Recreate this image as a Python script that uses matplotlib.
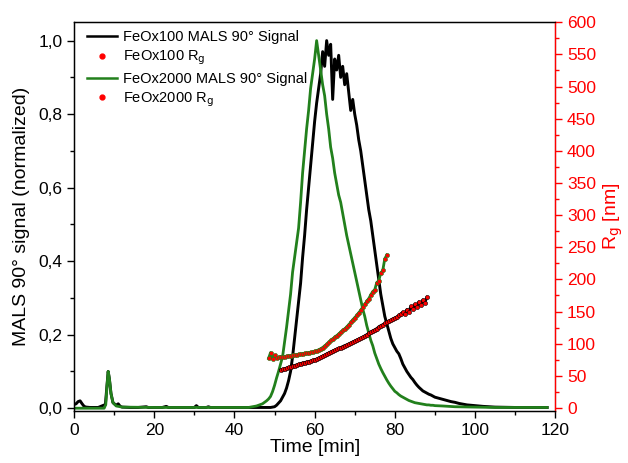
import matplotlib
matplotlib.use("Agg")
import matplotlib.pyplot as plt
from matplotlib.ticker import MultipleLocator, FuncFormatter
import numpy as np

plt.rcParams['font.family'] = ['Liberation Sans', 'DejaVu Sans']

# --- MALS 90 deg signal, FeOx100 (black) ---
t100_base = [0, 0.5, 1, 1.5, 2, 2.5, 3, 4, 6, 7.8, 8.2, 8.5, 8.8, 9.2, 9.7, 10.5, 11, 11.5, 12,
             14, 16, 18, 18.5, 19, 22, 23, 23.5, 24, 28, 30, 30.5, 31, 33, 33.5, 34, 38, 43.5]
s100_base = [0.01, 0.012, 0.018, 0.02, 0.012, 0.005, 0.003, 0.002, 0.002, 0.01, 0.06, 0.1, 0.08,
             0.04, 0.015, 0.008, 0.012, 0.005, 0.003, 0.002, 0.002, 0.004, 0.002, 0.002, 0.002,
             0.005, 0.002, 0.002, 0.002, 0.002, 0.007, 0.002, 0.002, 0.004, 0.002, 0.002, 0.002]
# 44.0 ... 90.0 min, every 0.5 min
s100_peak = [0.002, 0.002, 0.002, 0.002, 0.002, 0.002, 0.002, 0.002, 0.002, 0.002, 0.002, 0.003,
             0.004, 0.008, 0.014, 0.02, 0.03, 0.04, 0.055, 0.075, 0.1, 0.14, 0.19, 0.24,
             0.29, 0.34, 0.41, 0.47, 0.54, 0.6, 0.66, 0.72, 0.78, 0.83, 0.87, 0.91,
             0.97, 0.93, 1.0, 0.96, 0.99, 0.84, 0.95, 0.92, 0.96, 0.9, 0.93, 0.88,
             0.91, 0.86, 0.81, 0.84, 0.8, 0.77, 0.73, 0.7, 0.66, 0.62, 0.58, 0.54,
             0.51, 0.47, 0.43, 0.39, 0.35, 0.31, 0.28, 0.25, 0.23, 0.21, 0.19, 0.175,
             0.165, 0.155, 0.148, 0.135, 0.12, 0.11, 0.1, 0.092, 0.084, 0.078, 0.07, 0.063,
             0.057, 0.052, 0.047, 0.044, 0.041, 0.038, 0.036, 0.033, 0.03]
t100_tail = [91, 92, 93, 94, 95, 96, 97, 98, 100, 102, 105, 110, 115, 118]
s100_tail = [0.027, 0.024, 0.021, 0.018, 0.016, 0.013, 0.011, 0.009, 0.007, 0.005, 0.003,
             0.002, 0.002, 0.002]

# --- MALS 90 deg signal, FeOx2000 (green) ---
t2000_base = [0, 5, 7.5, 7.9, 8.2, 8.5, 8.8, 9.2, 9.7, 10.5, 12, 20, 30, 40, 43.5]
s2000_base = [0.0, 0.0, 0.0, 0.01, 0.06, 0.1, 0.08, 0.04, 0.015, 0.006, 0.003, 0.002, 0.002,
              0.002, 0.002]
s2000_peak = [0.003, 0.004, 0.005, 0.006, 0.008, 0.01, 0.012, 0.016, 0.02, 0.025, 0.032, 0.045,
              0.062, 0.082, 0.1, 0.12, 0.14, 0.18, 0.22, 0.265, 0.31, 0.37, 0.41, 0.45,
              0.49, 0.56, 0.64, 0.7, 0.76, 0.81, 0.87, 0.91, 0.95, 1.0, 0.96, 0.92,
              0.88, 0.85, 0.8, 0.76, 0.71, 0.68, 0.64, 0.61, 0.58, 0.56, 0.53, 0.5,
              0.47, 0.445, 0.42, 0.395, 0.37, 0.345, 0.32, 0.295, 0.27, 0.25, 0.225, 0.205,
              0.185, 0.17, 0.15, 0.135, 0.12, 0.108, 0.097, 0.087, 0.077, 0.068, 0.06, 0.053,
              0.046, 0.042, 0.037, 0.033, 0.03, 0.027, 0.024, 0.021, 0.019, 0.017, 0.015, 0.014,
              0.013, 0.012, 0.011, 0.01, 0.009, 0.009, 0.008, 0.008, 0.007]
t2000_tail = [92, 95, 100, 105, 110, 118]
s2000_tail = [0.006, 0.004, 0.003, 0.002, 0.002, 0.002]

# --- radius of gyration [nm], every 0.5 min ---
rg100_start = 51.5
rg100 = [59, 60, 61, 62, 63, 64, 65, 66, 67, 68, 69, 70, 70.5, 71.5, 72, 73, 74, 75, 76, 77.5,
         79, 80.5, 82, 84, 85.5, 87, 88.5, 90, 91, 92.5, 94, 95.5, 97, 98, 99.5, 101, 102.5,
         104, 105.5, 107, 108.5, 110, 112, 114, 116, 118, 120, 121.5, 123.5, 126, 128, 129.5,
         131.5, 133, 135, 136.5, 138.5, 140, 141.5, 144, 146, 149, 146, 153, 150, 158, 154,
         161, 157, 165, 160, 168, 164, 172]
rg2000_start = 48.5
rg2000 = [77, 86, 76, 82, 78, 79, 80, 79.5, 80, 80.5, 81, 81.5, 82, 82.5, 83, 83.5, 84, 84.5,
          85, 85.5, 86, 86.5, 87, 88, 89, 90.5, 92, 94, 96.5, 99, 102, 105, 107.5, 110, 112.5,
          115, 118, 120.5, 123, 126, 129.5, 133, 137, 140.5, 144, 148, 152, 157, 161, 166,
          170, 176, 181, 184, 195, 198, 210, 214, 232, 238]

green = '#22801c'

t100 = np.concatenate([t100_base, 44 + 0.5 * np.arange(len(s100_peak)), t100_tail])
s100 = np.concatenate([s100_base, s100_peak, s100_tail])
t2000 = np.concatenate([t2000_base, 44 + 0.5 * np.arange(len(s2000_peak)), t2000_tail])
s2000 = np.concatenate([s2000_base, s2000_peak, s2000_tail])
trg100 = rg100_start + 0.5 * np.arange(len(rg100))
trg2000 = rg2000_start + 0.5 * np.arange(len(rg2000))

fig = plt.figure(figsize=(6.28, 4.63), dpi=100)
ax = fig.add_axes([0.118, 0.112, 0.766, 0.84])
ax2 = ax.twinx()

ax.plot(t100, s100, color='black', lw=2.1)
ax.plot(t2000, s2000, color=green, lw=2.0)

ax2.plot(trg100, rg100, color='black', lw=2)
ax2.plot(trg2000, rg2000, color=green, lw=2)
ax2.plot(trg100, rg100, ls='none', marker='o', ms=3, mfc='red', mec='black', mew=0.4)
ax2.plot(trg2000, rg2000, ls='none', marker='o', ms=3, mfc='red', mec=green, mew=0.4)

ax.set_xlim(0, 120)
ax.set_ylim(-0.008, 1.05)
ax2.set_ylim(-5, 600)

ax.xaxis.set_major_locator(MultipleLocator(20))
ax.xaxis.set_minor_locator(MultipleLocator(10))
ax.yaxis.set_major_locator(MultipleLocator(0.2))
ax.yaxis.set_minor_locator(MultipleLocator(0.1))
ax.yaxis.set_major_formatter(FuncFormatter(lambda v, p: f"{v:.1f}".replace('.', ',')))
ax2.yaxis.set_major_locator(MultipleLocator(50))
ax2.yaxis.set_minor_locator(MultipleLocator(25))

ax.tick_params(which='both', direction='out', labelsize=12.5, width=1)
ax.tick_params(which='major', length=5)
ax.tick_params(which='minor', length=3)
ax2.tick_params(which='both', direction='out', labelsize=12.5, width=1,
                colors='red')
ax2.tick_params(which='major', length=5)
ax2.tick_params(which='minor', length=3)
ax.tick_params(top=False, right=False)

for s in ['left', 'bottom', 'top']:
    ax.spines[s].set_linewidth(1)
ax2.spines['right'].set_color('red')
ax2.spines['right'].set_linewidth(1)

ax.set_xlabel('Time [min]', fontsize=14, labelpad=1)
ax.set_ylabel('MALS 90° signal (normalized)', fontsize=14, labelpad=6)
ax2.set_ylabel('R$_\\mathrm{g}$ [nm]', fontsize=14, color='red', labelpad=4)

h = [
    plt.Line2D([], [], color='black', lw=1.8),
    plt.Line2D([], [], ls='none', marker='o', ms=3.5, mfc='red', mec='red'),
    plt.Line2D([], [], color=green, lw=1.8),
    plt.Line2D([], [], ls='none', marker='o', ms=3.5, mfc='red', mec='red'),
]
labels = ['FeOx100 MALS 90° Signal', 'FeOx100 R$_\\mathrm{g}$',
          'FeOx2000 MALS 90° Signal', 'FeOx2000 R$_\\mathrm{g}$']
ax.legend(h, labels, loc='upper left', bbox_to_anchor=(0.005, 1.005), frameon=False,
          fontsize=10.5, handlelength=2.1, handletextpad=0.4, labelspacing=0.3,
          borderaxespad=0.3)

fig.savefig('out.png', dpi=100)
